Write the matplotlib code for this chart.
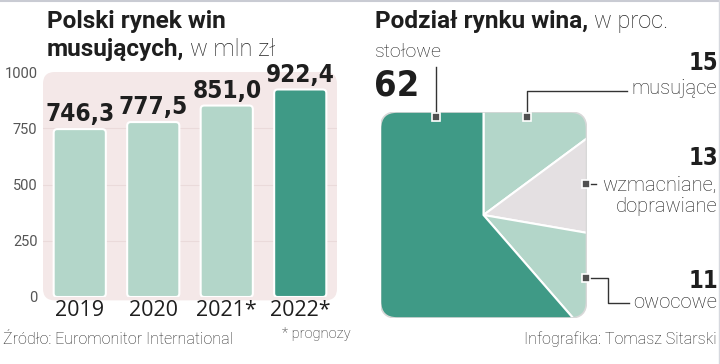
import matplotlib
matplotlib.use("Agg")
import matplotlib.pyplot as plt
from matplotlib import font_manager
from matplotlib.patches import FancyBboxPatch

# data for bar chart
years = ["2019", "2020", "2021*", "2022*"]
sales = [746.3, 777.5, 851.0, 922.4]
sales_labels = ["746,3", "777,5", "851,0", "922,4"]

# data for market share
segments = ["musujące", "wzmacniane, doprawiane", "owocowe", "stołowe"]
shares = [15, 13, 11, 62]

DARK = "#3f9a86"
LIGHT = "#b3d6c9"
GREY = "#e4e0e2"
BG = "#f4e8e8"
TXT = "#1e1e1e"
LIGHTFONT = "Roboto"

# pick a condensed bold font if there is one
COND = dict(family="Roboto", fontweight="bold")
fp = font_manager.FontProperties(family="DejaVu Sans", weight="bold", stretch="condensed")
path = font_manager.findfont(fp, fallback_to_default=False)
if "Condensed" in path:
    COND = dict(fontproperties=font_manager.FontProperties(fname=path))

def cond(size):
    d = dict(COND)
    if "fontproperties" in d:
        p = d["fontproperties"].copy()
        p.set_size(size)
        return dict(fontproperties=p)
    d["fontsize"] = size
    return d

fig = plt.figure(figsize=(7.2, 3.64), dpi=100)
W, H = 720, 364

def frac(x0, y0, x1, y1):
    # pixel box (top-left origin) -> figure fraction
    return [x0 / W, 1 - y1 / H, (x1 - x0) / W, (y1 - y0) / H]

# ---- bar chart ----
ax = fig.add_axes(frac(43, 72, 337, 297))
ax.set_facecolor("none")
ax.add_patch(FancyBboxPatch((0, -0.015), 1, 1.015, boxstyle="round,pad=0,rounding_size=0.04",
                            transform=ax.transAxes, facecolor=BG, edgecolor="none",
                            clip_on=False, zorder=0, mutation_aspect=294 / 225))
for g in [250, 500, 750]:
    ax.axhline(g, color="#eadada", lw=0.8, zorder=1)

colors = [LIGHT, LIGHT, LIGHT, DARK]
bars = ax.bar(range(len(years)), sales, width=0.71, color=colors, zorder=2)
aspect = (1000 / 225) / (4 / 294)
for b in bars:
    b.set_visible(False)
    ax.add_patch(FancyBboxPatch((b.get_x(), 0), b.get_width(), b.get_height(),
                                boxstyle="round,pad=0,rounding_size=0.05", mutation_aspect=aspect,
                                facecolor=b.get_facecolor(), edgecolor="white", lw=1.5, zorder=3))

for i, (v, lab) in enumerate(zip(sales, sales_labels)):
    ax.annotate(lab, (i, v), xytext=(0, 2), textcoords="offset points", ha="center", va="bottom",
                color=TXT, zorder=4, **cond(17.5))

ax.set_xlim(-0.5, 3.5)
ax.set_ylim(0, 1000)
ax.set_yticks([0, 250, 500, 750, 1000])
ax.set_yticklabels(["0", "250", "500", "750", "1000"], family=LIGHTFONT, fontsize=10.5, color="#555555")
ax.set_xticks(range(len(years)))
ax.set_xticklabels(years, family="Open Sans", fontsize=15.5, color=TXT)
ax.tick_params(length=0, pad=4)
ax.tick_params(axis="x", pad=2)
for s in ax.spines.values():
    s.set_visible(False)

# ---- pie chart in rounded square ----
pax = fig.add_axes(frac(380, 112, 587, 318))
wedges, _ = pax.pie(shares, colors=[LIGHT, GREY, LIGHT, DARK], startangle=90, counterclock=False,
                    radius=1.6, wedgeprops=dict(edgecolor="white", lw=1.5))
pax.set_xlim(-1, 1)
pax.set_ylim(-1, 1)
pax.axis("off")
box = FancyBboxPatch((-1, -1), 2, 2, boxstyle="round,pad=0,rounding_size=0.16",
                     facecolor="none", edgecolor="#d8d8d8", lw=1.2, zorder=5)
pax.add_patch(box)
for w in wedges:
    w.set_clip_on(True)
    w.set_clip_path(box)

# ---- overlay for text and leaders (pixel coords) ----
ov = fig.add_axes([0, 0, 1, 1])
ov.set_xlim(0, W)
ov.set_ylim(H, 0)
ov.axis("off")
ov.set_zorder(10)

ov.plot([0, W], [0.5, 0.5], color="#c9cbd3", lw=1.5)
ov.plot([W - 1, W - 1], [0, H], color="#d6d8de", lw=1)

def title(x, y, bold, rest):
    t = ov.text(x, y, bold, fontsize=17.6, fontweight="bold", family="Roboto", color=TXT, va="baseline")
    fig.canvas.draw()
    bb = t.get_window_extent()
    x1 = ov.transData.inverted().transform((bb.x1, bb.y0))[0]
    ov.text(x1 + 6, y, rest, fontsize=17, fontweight="light", family=LIGHTFONT, color="#222222",
            va="baseline")

ov.text(47, 28, "Polski rynek win", fontsize=17.6, fontweight="bold", family="Roboto", color=TXT, va="baseline")
title(47, 56, "musujących,", "w mln zł")
title(375, 28, "Podział rynku wina,", "w proc.")

ov.text(375, 52, "stołowe", fontsize=14, fontweight="light", family=LIGHTFONT, color=TXT, va="center")
ov.text(374, 86, str(shares[3]), color=TXT, va="center", **cond(26))

ov.text(718, 63, str(shares[0]), color=TXT, va="center", ha="right", **cond(17))
ov.text(717, 89, "musujące", fontsize=14.5, fontweight="light", family=LIGHTFONT, color=TXT, va="center", ha="right")
ov.text(718, 158, str(shares[1]), color=TXT, va="center", ha="right", **cond(17))
ov.text(717, 185, "wzmacniane,", fontsize=14.5, fontweight="light", family=LIGHTFONT, color=TXT, va="center", ha="right")
ov.text(717, 207, "doprawiane", fontsize=14.5, fontweight="light", family=LIGHTFONT, color=TXT, va="center", ha="right")
ov.text(718, 281, str(shares[2]), color=TXT, va="center", ha="right", **cond(17))
ov.text(717, 303, "owocowe", fontsize=14.5, fontweight="light", family=LIGHTFONT, color=TXT, va="center", ha="right")

lc = "#333333"
ov.plot([436, 436], [67, 117], color=lc, lw=1)
ov.plot([527, 527, 627], [117, 91, 91], color=lc, lw=1)
ov.plot([586, 596], [184, 184], color=lc, lw=1)
ov.plot([586, 608, 608, 629], [278, 278, 303, 303], color=lc, lw=1)
for mx, my in [(436, 117), (527, 117), (586, 184), (586, 278)]:
    ov.plot(mx, my, marker="s", ms=6, color="#505050", mec="white", mew=1.2)

ov.text(3, 340, "Źródło: Euromonitor International", fontsize=11.5, fontweight="light", family=LIGHTFONT,
        color="#222222", va="center")
ov.text(282, 334, "* prognozy", fontsize=10.5, fontweight="light", family=LIGHTFONT, color="#222222", va="center")
ov.text(717, 339, "Infografika: Tomasz Sitarski", fontsize=11.5, fontweight="light", family=LIGHTFONT,
        color="#222222", va="center", ha="right")

fig.savefig("out.png", dpi=100)
